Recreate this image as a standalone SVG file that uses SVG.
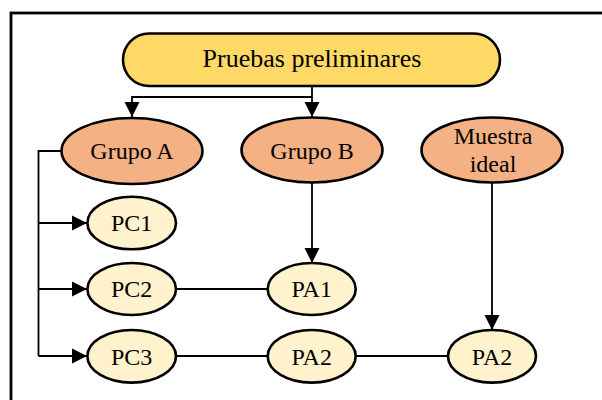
<svg xmlns="http://www.w3.org/2000/svg" width="602" height="400" viewBox="0 0 602 400">
  <style>
    text { font-family: "Liberation Serif", "Times New Roman", serif; fill: #000; text-anchor: middle; }
    .t24 { font-size: 24px; }
    .t26 { font-size: 26px; }
    .frame { fill: #fff; stroke: #000; stroke-width: 2.8; }
    .title { fill: #FFD966; stroke: #000; stroke-width: 2.6; }
    .group { fill: #F4B183; stroke: #000; stroke-width: 2.6; }
    .test { fill: #FFF2CC; stroke: #000; stroke-width: 2.6; }
    .link { fill: none; stroke: #000; stroke-width: 1.8; }
  </style>
  <defs>
    <marker id="arrow" markerUnits="userSpaceOnUse" markerWidth="16" markerHeight="16" viewBox="0 0 16 16" refX="15" refY="8" orient="auto">
      <path d="M0,0.5 L15,8 L0,15.5 Z" fill="#000"/>
    </marker>
  </defs>

  <!-- outer frame -->
  <rect class="frame" x="11" y="13" width="600" height="400"/>

  <!-- connectors -->
  <g id="connectors">
    <path class="link" d="M312,86 V97 H132 V117" marker-end="url(#arrow)"/>
    <path class="link" d="M312,97 V117" marker-end="url(#arrow)"/>
    <path class="link" d="M62,151 H38.5 V356"/>
    <path class="link" d="M38.5,223 H87" marker-end="url(#arrow)"/>
    <path class="link" d="M38.5,289 H87" marker-end="url(#arrow)"/>
    <path class="link" d="M38.5,356 H87" marker-end="url(#arrow)"/>
    <path class="link" d="M312,182 V263" marker-end="url(#arrow)"/>
    <path class="link" d="M492,182 V330" marker-end="url(#arrow)"/>
    <path class="link" d="M176,289 H268"/>
    <path class="link" d="M176,356 H268"/>
    <path class="link" d="M356,356 H448"/>
  </g>

  <g id="pruebas">
    <rect class="title" x="123" y="33.5" width="377" height="52.5" rx="26.25"/>
    <text class="t26" x="312" y="67">Pruebas preliminares</text>
  </g>

  <g id="grupo-a">
    <ellipse class="group" cx="132" cy="151" rx="70.5" ry="33"/>
    <text class="t24" x="132" y="159">Grupo A</text>
  </g>
  <g id="grupo-b">
    <ellipse class="group" cx="312" cy="150" rx="70.5" ry="32.5"/>
    <text class="t24" x="312" y="159">Grupo B</text>
  </g>
  <g id="muestra-ideal">
    <ellipse class="group" cx="492" cy="150" rx="70.5" ry="32.5"/>
    <text class="t24" x="493" y="144">Muestra</text>
    <text class="t24" x="493" y="171.5">ideal</text>
  </g>

  <g id="pc1">
    <ellipse class="test" cx="131.7" cy="223" rx="44.3" ry="26.3"/>
    <text class="t24" x="131.7" y="231">PC1</text>
  </g>
  <g id="pc2">
    <ellipse class="test" cx="131.7" cy="289" rx="44.3" ry="26"/>
    <text class="t24" x="131.7" y="297">PC2</text>
  </g>
  <g id="pc3">
    <ellipse class="test" cx="131.7" cy="356.3" rx="44.3" ry="26.3"/>
    <text class="t24" x="131.7" y="364.5">PC3</text>
  </g>
  <g id="pa1">
    <ellipse class="test" cx="311.7" cy="289" rx="44" ry="26"/>
    <text class="t24" x="311.7" y="297">PA1</text>
  </g>
  <g id="pa2-b">
    <ellipse class="test" cx="311.7" cy="356.3" rx="44" ry="26.3"/>
    <text class="t24" x="311.7" y="364.5">PA2</text>
  </g>
  <g id="pa2-ideal">
    <ellipse class="test" cx="492" cy="356.3" rx="44" ry="26.3"/>
    <text class="t24" x="492" y="364.5">PA2</text>
  </g>
</svg>
